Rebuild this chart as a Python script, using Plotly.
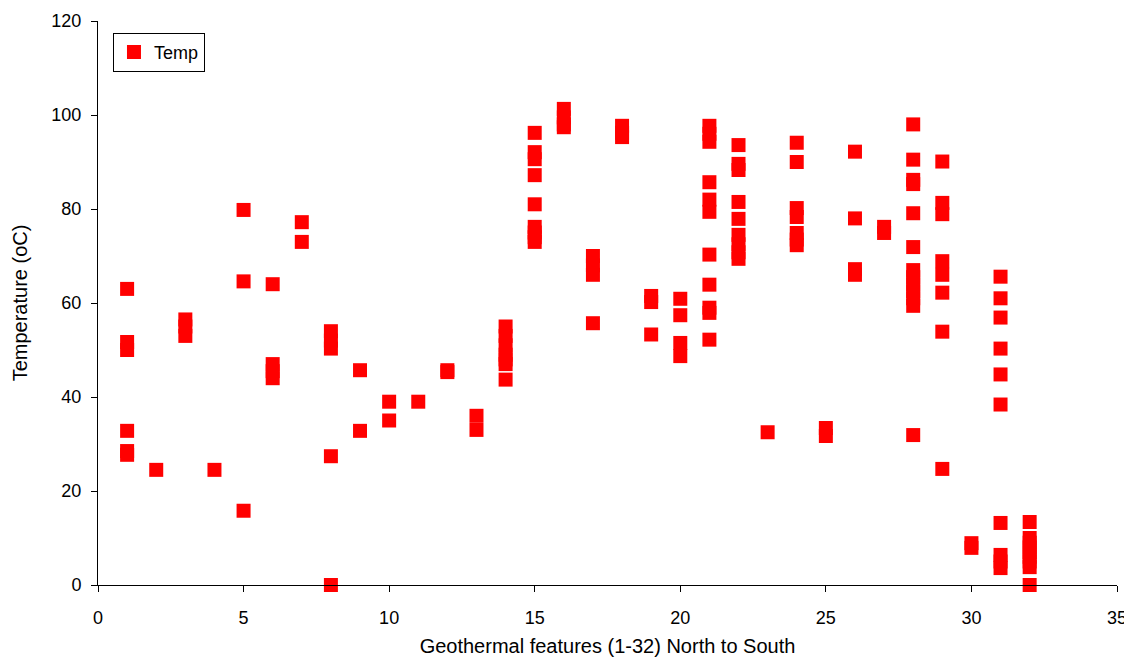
import plotly.graph_objects as go

# Temperatures (oC) read per geothermal feature (1-32, North to South)
feature_ids = list(range(1, 33))
temps_f01 = [63, 51.7, 50, 32.8, 28.5, 27.7]
temps_f02 = [24.5]
temps_f03 = [56.5, 55, 53]
temps_f04 = [24.5]
temps_f05 = [79.8, 64.6, 15.8]
temps_f06 = [64, 47, 45.5, 44]
temps_f07 = [77.2, 73]
temps_f08 = [54, 52, 50.3, 27.4, 0]
temps_f09 = [45.7, 32.8]
temps_f10 = [39, 35]
temps_f11 = [39]
temps_f12 = [45.7, 45.3]
temps_f13 = [36, 33]
temps_f14 = [55, 53, 51, 49, 48, 47, 43.7]
temps_f15 = [96.2, 92.1, 90.6, 87.2, 81, 76.2, 75, 74, 73]
temps_f16 = [101.3, 99.5, 98, 97.4]
temps_f17 = [70, 68, 66, 55.7]
temps_f18 = [97.7, 96.2, 95.3]
temps_f19 = [61.5, 60.2, 53.3]
temps_f20 = [60.9, 57.4, 51.5, 48.7]
temps_f21 = [97.7, 96, 94.3, 85.7, 82, 79.4, 70.3, 63.9, 59, 57.9, 52.2]
temps_f22 = [93.6, 89.6, 88.3, 81.5, 77.9, 74.5, 72.5, 70.8, 69.4]
temps_f23 = [32.5]
temps_f24 = [94.1, 90, 80.2, 78.3, 74.9, 73.5, 72.3]
temps_f25 = [33.4, 31.7]
temps_f26 = [92.2, 78, 67.2, 66]
temps_f27 = [76.2, 74.9]
temps_f28 = [98, 90.5, 86.2, 85.3, 79.1, 71.9, 67, 65.5, 64, 62.5, 61, 59.4, 31.9]
temps_f29 = [90.1, 81.3, 78.9, 68.9, 66, 62.2, 53.9, 24.7]
temps_f30 = [8.9, 7.9]
temps_f31 = [65.6, 61, 56.9, 50.3, 44.8, 38.4, 13.2, 6.4, 5, 3.6]
temps_f32 = [13.4, 10, 9, 8, 7, 6, 5, 3.8, 0]

x_tick_vals = [0, 5, 10, 15, 20, 25, 30, 35]
y_tick_vals = [0, 20, 40, 60, 80, 100, 120]

all_temps = [temps_f01, temps_f02, temps_f03, temps_f04, temps_f05, temps_f06, temps_f07, temps_f08,
             temps_f09, temps_f10, temps_f11, temps_f12, temps_f13, temps_f14, temps_f15, temps_f16,
             temps_f17, temps_f18, temps_f19, temps_f20, temps_f21, temps_f22, temps_f23, temps_f24,
             temps_f25, temps_f26, temps_f27, temps_f28, temps_f29, temps_f30, temps_f31, temps_f32]

x_vals, y_vals = [], []
for f, temps in zip(feature_ids, all_temps):
    for t in temps:
        x_vals.append(f)
        y_vals.append(t)

FONT = "Liberation Sans, Arial, sans-serif"

fig = go.Figure()
fig.add_trace(go.Scatter(
    x=x_vals, y=y_vals, mode="markers", name="Temp",
    marker=dict(symbol="square", size=14, color="#ff0000", line=dict(width=0)),
    cliponaxis=False,
))

axis_common = dict(
    showgrid=False, zeroline=False, showline=True, linecolor="#000000", linewidth=1,
    ticks="outside", ticklen=6, tickcolor="#000000", mirror=False, automargin=False,
    tickfont=dict(family=FONT, size=18, color="#000000"),
)

# the page body adds an 8px offset, so the figure is 8px smaller and margins compensate
fig.update_layout(
    width=1124, height=650,
    margin=dict(l=90, r=15, t=13, b=73),
    paper_bgcolor="white", plot_bgcolor="white",
    font=dict(family=FONT, size=18, color="#000000"),
    showlegend=True,
    legend=dict(
        x=0.0147, y=0.979, xanchor="left", yanchor="top",
        bordercolor="#000000", borderwidth=1, bgcolor="white",
        font=dict(family=FONT, size=18), itemwidth=30,
    ),
    xaxis=dict(range=[0, 35], tickvals=x_tick_vals, ticklabelstandoff=10,
               title=dict(text="Geothermal features (1-32) North to South", font=dict(family=FONT, size=20), standoff=12),
               **axis_common),
    yaxis=dict(range=[0, 120], tickvals=y_tick_vals, ticklabelstandoff=6,
               title=dict(text="Temperature (oC)", font=dict(family=FONT, size=20), standoff=18),
               **axis_common),
)

fig.write_html("out.html")
